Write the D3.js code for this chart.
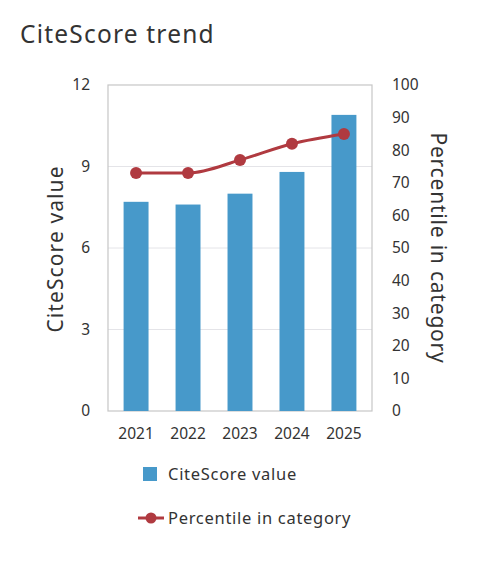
<!DOCTYPE html>
<html>
<head>
<meta charset="utf-8">
<script src="https://cdn.jsdelivr.net/npm/d3@7"></script>
<style>
  body { margin: 0; background: #fff; }
  text { font-family: "Noto Sans", "Open Sans", sans-serif; fill: #333; }
</style>
</head>
<body>
<svg id="chart" width="493" height="579"></svg>
<script>
// Chart data
var years = ["2021", "2022", "2023", "2024", "2025"];
var citeScore = [7.7, 7.6, 8.0, 8.8, 10.9];
var percentile = [73, 73, 77, 82, 85];
var leftTicks = [0, 3, 6, 9, 12];
var rightTicks = [0, 10, 20, 30, 40, 50, 60, 70, 80, 90, 100];

var svg = d3.select("#chart");
var margin = {left: 108, right: 121, top: 85, bottom: 168};
var width = 493 - margin.left - margin.right;
var height = 579 - margin.top - margin.bottom;

var barColor = "#4799ca", lineColor = "#b03a40";

svg.append("text")
    .attr("x", 20).attr("y", 43)
    .attr("font-size", 24.5)
    .attr("letter-spacing", 1.2)
    .text("CiteScore trend");

var g = svg.append("g")
    .attr("transform", "translate(" + margin.left + "," + margin.top + ")");

var x = d3.scaleBand().domain(years).range([0, width]).paddingInner(0.52).paddingOuter(0.3);
var y = d3.scaleLinear().domain([0, 12]).range([height, 0]);
var y2 = d3.scaleLinear().domain([0, 100]).range([height, 0]);

// grid lines
g.selectAll(".grid")
    .data(leftTicks.slice(1, -1))
    .enter().append("line")
    .attr("x1", 0).attr("x2", width)
    .attr("y1", function(d) { return y(d); })
    .attr("y2", function(d) { return y(d); })
    .attr("stroke", "#e4e4e8");

// frame
g.append("rect")
    .attr("width", width).attr("height", height)
    .attr("fill", "none").attr("stroke", "#c6c6c6").attr("stroke-width", 1.2);

// bars
g.selectAll(".bar")
    .data(citeScore)
    .enter().append("rect")
    .attr("x", function(d, i) { return x(years[i]); })
    .attr("width", x.bandwidth())
    .attr("y", function(d) { return y(d); })
    .attr("height", function(d) { return height - y(d); })
    .attr("fill", barColor);

// percentile line
var line = d3.line()
    .x(function(d, i) { return x(years[i]) + x.bandwidth() / 2; })
    .y(function(d) { return y2(d); })
    .curve(d3.curveMonotoneX);

g.append("path")
    .datum(percentile)
    .attr("d", line)
    .attr("fill", "none")
    .attr("stroke", lineColor)
    .attr("stroke-width", 3);

g.selectAll(".dot")
    .data(percentile)
    .enter().append("circle")
    .attr("cx", function(d, i) { return x(years[i]) + x.bandwidth() / 2; })
    .attr("cy", function(d) { return y2(d); })
    .attr("r", 6)
    .attr("fill", lineColor);

// axes
var leftAxis = g.append("g")
    .call(d3.axisLeft(y).tickValues(leftTicks).tickSize(0).tickPadding(18));
var rightAxis = g.append("g")
    .attr("transform", "translate(" + width + ",0)")
    .call(d3.axisRight(y2).tickValues(rightTicks).tickSize(0).tickPadding(20));
var bottomAxis = g.append("g")
    .attr("transform", "translate(0," + height + ")")
    .call(d3.axisBottom(x).tickSize(0).tickPadding(17));

[leftAxis, rightAxis, bottomAxis].forEach(function(a) {
    a.select(".domain").remove();
    a.selectAll("text").attr("font-size", 15.5).style("font-family", "\"Noto Sans\", sans-serif").attr("fill", "#333");
});

// axis titles
svg.append("text")
    .attr("transform", "translate(63," + (margin.top + height / 2 + 1) + ") rotate(-90)")
    .attr("text-anchor", "middle")
    .attr("font-size", 21)
    .attr("letter-spacing", 1.1)
    .text("CiteScore value");

svg.append("text")
    .attr("transform", "translate(431," + (margin.top + height / 2) + ") rotate(90)")
    .attr("text-anchor", "middle")
    .attr("font-size", 21)
    .attr("letter-spacing", 0.8)
    .text("Percentile in category");

// legend
var legend = svg.append("g");
legend.append("rect")
    .attr("x", 143).attr("y", 467).attr("width", 14).attr("height", 14)
    .attr("fill", barColor);
legend.append("text")
    .attr("x", 168).attr("y", 480)
    .attr("font-size", 16.5)
    .attr("letter-spacing", 0.7)
    .text("CiteScore value");

legend.append("line")
    .attr("x1", 138).attr("x2", 164).attr("y1", 518).attr("y2", 518)
    .attr("stroke", lineColor).attr("stroke-width", 3);
legend.append("circle")
    .attr("cx", 151).attr("cy", 518).attr("r", 5.5)
    .attr("fill", lineColor);
legend.append("text")
    .attr("x", 168).attr("y", 524)
    .attr("font-size", 16.5)
    .attr("letter-spacing", 0.7)
    .text("Percentile in category");
</script>
</body>
</html>
